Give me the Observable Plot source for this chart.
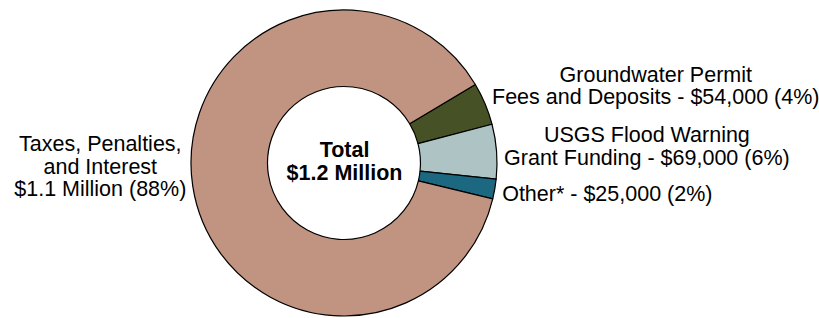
<!DOCTYPE html>
<html>
<head>
<meta charset="utf-8">
<script src="https://cdn.jsdelivr.net/npm/d3@7"></script>
<script src="https://cdn.jsdelivr.net/npm/@observablehq/plot@0.6"></script>
<style>
  body { margin: 0; background: #fff; }
  #chart svg { display: block; }
</style>
</head>
<body>
<div id="chart"></div>
<script>
// ---- data ----
const categories = [
  "Groundwater Permit Fees and Deposits",
  "USGS Flood Warning Grant Funding",
  "Other*",
  "Taxes, Penalties, and Interest"
];
const amounts = [54000, 69000, 25000, 1052000];
const labels = [
  "Groundwater Permit\nFees and Deposits - $54,000 (4%)",
  "USGS Flood Warning\nGrant Funding - $69,000 (6%)",
  "Other* - $25,000 (2%)",
  "Taxes, Penalties,\nand Interest\n$1.1 Million (88%)"
];
const centerLabel = ["Total\n$1.2 Million"];

// ---- style / layout ----
const colors = ["#465125", "#AEC4C4", "#1B6880", "#C09480"];
const W = 819, H = 318;
const CX = 344, CY = 163, R = 153;   // pie centre and radius in px
const INNER = 0.5;                   // hole ratio
const START = 1.032;                 // start angle (rad, clockwise from 12 o'clock)
const FONT = '"Liberation Sans", Arial, Helvetica, sans-serif';
const FS = 21.5;
const LH = 1.05;
const LABEL_PAD = 7;
const labelNudge = [-16, -5, 3, -21]; // vertical px nudges of outside labels

const table = categories.map((c, i) => ({category: c, amount: amounts[i], label: labels[i], color: colors[i]}));
const pie = d3.pie().sort(null).value(d => d.amount).startAngle(START).endAngle(START + 2 * Math.PI);
const arcs = pie(table);

// text width measurement
const cvs = document.createElement("canvas").getContext("2d");
cvs.font = `${FS}px ${FONT}`;
const textWidth = s => Math.max(...s.split("\n").map(l => cvs.measureText(l).width));

const labelData = arcs.map((a, i) => {
  const m = (a.startAngle + a.endAngle) / 2;
  const k = 1 + LABEL_PAD / R;
  const side = Math.sign(Math.sin(m));
  const w = textWidth(a.data.label);
  return {
    label: a.data.label,
    x: k * Math.sin(m) + side * (w / 2) / R,
    y: k * Math.cos(m) - labelNudge[i] / R
  };
});

function donutMark(index, scales, values, dimensions, context) {
  const xs = typeof scales.x === "function" ? scales.x : d3.scaleLinear().domain([-CX / R, (W - CX) / R]).range([0, W]);
  const ys = typeof scales.y === "function" ? scales.y : d3.scaleLinear().domain([-(H - CY) / R, CY / R]).range([H, 0]);
  const cx = xs(0), cy = ys(0);
  const r = xs(1) - xs(0);
  const arc = d3.arc().innerRadius(r * INNER).outerRadius(r);
  const g = d3.create("svg:g").attr("transform", `translate(${cx},${cy})`);
  g.selectAll("path")
    .data(arcs)
    .join("path")
    .attr("d", arc)
    .attr("fill", d => d.data.color)
    .attr("stroke", "#000")
    .attr("stroke-width", 1.2)
    .attr("stroke-linejoin", "round");
  return g.node();
}

const chart = Plot.plot({
  width: W,
  height: H,
  margin: 0,
  style: {fontFamily: FONT, background: "#fff"},
  x: {domain: [-CX / R, (W - CX) / R], axis: null},
  y: {domain: [-(H - CY) / R, CY / R], axis: null},
  marks: [
    donutMark,
    Plot.text(labelData, {
      x: "x", y: "y", text: "label",
      fontSize: FS, lineHeight: LH, textAnchor: "middle", lineAnchor: "middle",
      fill: "#000", fontFamily: FONT
    }),
    Plot.text(centerLabel, {
      x: 0, y: 0, text: d => d, dy: -2,
      fontSize: FS, lineHeight: LH, fontWeight: "bold", textAnchor: "middle", lineAnchor: "middle",
      fill: "#000", fontFamily: FONT
    })
  ]
});
document.getElementById("chart").appendChild(chart);
</script>
</body>
</html>
